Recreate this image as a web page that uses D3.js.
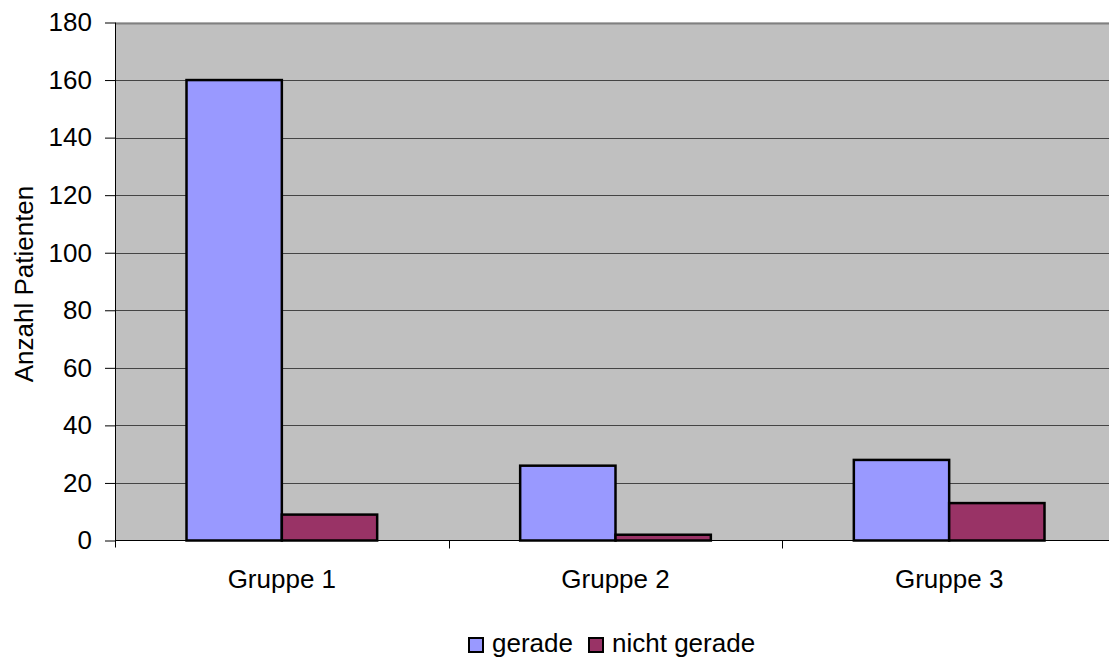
<!DOCTYPE html>
<html>
<head>
<meta charset="utf-8">
<script src="https://cdn.jsdelivr.net/npm/d3@7"></script>
<style>
  html, body { margin: 0; padding: 0; background: #fff; }
  svg { display: block; font-family: "Liberation Sans", Arial, sans-serif; }
</style>
</head>
<body>
<svg id="chart" width="1109" height="659"></svg>
<script>
// Patient counts per group, split by outcome
const groups = ["Gruppe 1", "Gruppe 2", "Gruppe 3"];
const seriesNames = ["gerade", "nicht gerade"];
const gerade = [160, 26, 28];
const nichtGerade = [9, 2, 13];
const yTicks = [0, 20, 40, 60, 80, 100, 120, 140, 160, 180];
const colors = ["#9999FF", "#993366"];

const FONT = 26;
const svg = d3.select("#chart");
const plot = { left: 115, top: 22.5, right: 1116, bottom: 540.5 };

const x = d3.scaleBand().domain(groups).range([plot.left, plot.right]).paddingInner(0).paddingOuter(0);
const xInner = d3.scaleBand().domain(seriesNames).range([0, x.bandwidth()]).paddingOuter(0.75).paddingInner(0);
const y = d3.scaleLinear().domain([0, 180]).range([plot.bottom, plot.top]);

// plot background
svg.append("rect")
  .attr("x", plot.left).attr("y", plot.top)
  .attr("width", plot.right - plot.left).attr("height", plot.bottom - plot.top)
  .attr("fill", "#C0C0C0");

// horizontal gridlines
svg.append("g").selectAll("line").data(yTicks.filter(d => d > 0)).join("line")
  .attr("x1", plot.left).attr("x2", plot.right)
  .attr("y1", d => Math.round(y(d)) + 0.5).attr("y2", d => Math.round(y(d)) + 0.5)
  .attr("stroke", d => d === 180 ? "#808080" : "#444")
  .attr("stroke-width", d => d === 180 ? 2 : 1);

// bars
const rows = groups.map((g, i) => ({ group: g, values: [gerade[i], nichtGerade[i]] }));
svg.append("g").selectAll("g").data(rows).join("g")
  .attr("transform", d => `translate(${x(d.group)},0)`)
  .selectAll("rect").data(d => d.values.map((v, j) => ({ name: seriesNames[j], value: v, color: colors[j] })))
  .join("rect")
  .attr("x", d => xInner(d.name))
  .attr("width", xInner.bandwidth())
  .attr("y", d => y(d.value))
  .attr("height", d => y(0) - y(d.value))
  .attr("fill", d => d.color)
  .attr("stroke", "#000")
  .attr("stroke-width", 2.5);

// y axis
const yAxis = d3.axisLeft(y).tickValues(yTicks).tickSize(10).tickPadding(13).tickSizeOuter(0);
const gy = svg.append("g").attr("transform", `translate(${plot.left},0)`).call(yAxis);
gy.attr("font-size", FONT).attr("font-family", "Liberation Sans, Arial, sans-serif");
gy.select(".domain").attr("stroke", "#000").attr("d", `M0.5,${plot.top}V${plot.bottom + 7}`);
gy.selectAll(".tick line").attr("stroke", "#000");
gy.selectAll(".tick text").attr("fill", "#000");

// x axis baseline and category separators
svg.append("line")
  .attr("x1", plot.left).attr("x2", plot.right)
  .attr("y1", plot.bottom).attr("y2", plot.bottom)
  .attr("stroke", "#000").attr("stroke-width", 1);
svg.append("g").selectAll("line").data(groups.slice(1)).join("line")
  .attr("x1", d => Math.round(x(d)) + 0.5).attr("x2", d => Math.round(x(d)) + 0.5)
  .attr("y1", plot.bottom).attr("y2", plot.bottom + 8)
  .attr("stroke", "#000");
svg.append("g").selectAll("text").data(groups).join("text")
  .attr("x", d => x(d) + x.bandwidth() / 2)
  .attr("y", 588)
  .attr("text-anchor", "middle")
  .attr("font-size", FONT)
  .text(d => d);

// y axis title
svg.append("text")
  .attr("transform", "translate(33,284) rotate(-90)")
  .attr("text-anchor", "middle")
  .attr("font-size", FONT)
  .text("Anzahl Patienten");

// legend
const legend = svg.append("g").attr("transform", "translate(468,637)");
const legendItems = [
  { name: seriesNames[0], color: colors[0], x: 0 },
  { name: seriesNames[1], color: colors[1], x: 120 }
];
legendItems.forEach(it => {
  legend.append("rect").attr("x", it.x + 1).attr("y", 1).attr("width", 14).attr("height", 14)
    .attr("fill", it.color).attr("stroke", "#000").attr("stroke-width", 2);
  legend.append("text").attr("x", it.x + 24).attr("y", 15).attr("font-size", FONT).text(it.name);
});
</script>
</body>
</html>
